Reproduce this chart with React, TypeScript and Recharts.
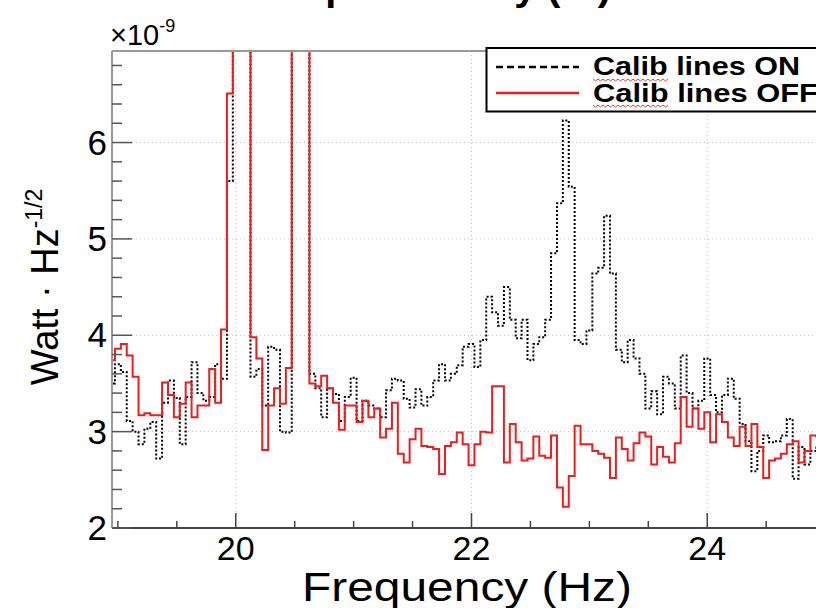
import React from "react";
import { LineChart, Line, XAxis, YAxis, CartesianGrid } from "recharts";

// spectrum bins, 0.05 Hz wide, first bin centred on 18.95 Hz
const BIN_FIRST = 18.95;
const BIN_WIDTH = 0.05;

// "Calib lines OFF" (red), units of 1e-9; 9 = off scale
const offValues = [
  3.74, 3.86, 3.91, 3.79, 3.57, 3.17, 3.19, 3.17, 3.17, 3.51,
  3.38, 3.15, 3.29, 3.51, 3.15, 3.27, 3.27, 3.65, 3.3, 4.06,
  6.51, 9, 9, 9, 3.98, 3.76, 2.81, 3.27, 3.45, 3.29,
  3.66, 9, 9, 9, 3.5, 3.47, 3.58, 3.45, 3.3, 3.02,
  3.27, 3.27, 3.1, 3.32, 3.15, 3.24, 2.94, 3.03, 3.3, 2.77,
  2.68, 2.92, 3.03, 2.85, 2.84, 2.82, 2.56, 2.85, 2.89, 2.99,
  2.87, 2.65, 2.87, 3.0, 2.99, 3.47, 3.47, 2.68, 3.08, 2.89,
  2.7, 2.72, 2.95, 2.75, 2.73, 2.96, 2.42, 2.22, 2.54, 3.06,
  2.87, 2.87, 2.8, 2.77, 2.73, 2.52, 2.94, 2.82, 2.7, 2.88,
  2.99, 2.95, 2.66, 2.84, 2.74, 2.68, 2.88, 3.36, 3.05, 3.24,
  3.03, 3.2, 2.89, 3.18, 3.1, 2.94, 2.85, 3.05, 2.85, 3.08,
  2.84, 2.52, 2.7, 2.72, 2.77, 2.87, 2.9, 2.68, 2.8, 2.96,
  2.95, 2.9, 2.9,
];

// "Calib lines ON" (black dotted)
const onValues = [
  3.5, 3.7, 3.62, 3.11, 3.0, 2.87, 3.03, 3.1, 2.72, 3.3,
  3.53, 3.35, 2.87, 3.36, 3.72, 3.4, 3.32, 3.36, 3.7, 3.55,
  5.6, 9, 9, 9, 3.57, 3.65, 3.27, 3.88, 3.85, 3.0,
  2.99, 9, 9, 9, 3.6, 3.45, 3.15, 3.45, 3.39, 3.11,
  3.36, 3.56, 3.11, 3.32, 3.27, 3.24, 3.15, 3.43, 3.55, 3.53,
  3.34, 3.25, 3.44, 3.27, 3.36, 3.53, 3.7, 3.53, 3.6, 3.69,
  3.88, 3.91, 3.67, 3.95, 4.4, 4.24, 4.1, 4.5, 4.16, 3.97,
  4.16, 3.74, 3.91, 3.98, 4.16, 4.85, 5.37, 6.23, 5.54, 3.95,
  3.91, 4.05, 4.64, 4.7, 5.24, 4.64, 3.85, 3.72, 3.95, 3.76,
  3.6, 3.24, 3.42, 3.18, 3.57, 3.5, 3.24, 3.79, 3.4, 3.24,
  3.32, 3.76, 3.38, 3.2, 3.38, 3.55, 3.34, 3.08, 2.9, 2.59,
  2.8, 2.96, 2.89, 2.9, 2.96, 3.13, 2.51, 2.84, 2.66, 2.8,
  2.85, 2.8, 2.8,
];

const xMajor = [20, 22, 24];
const xMinor = [19, 19.5, 20.5, 21, 21.5, 22.5, 23, 23.5, 24.5, 25];
const yMajor = [2, 3, 4, 5, 6];
const yMinor = [
  2.2, 2.4, 2.6, 2.8, 3.2, 3.4, 3.6, 3.8, 4.2, 4.4, 4.6, 4.8,
  5.2, 5.4, 5.6, 5.8, 6.2, 6.4, 6.6, 6.8,
];

// histogram -> step points at the left edge of each bin
const data = offValues.map((v, i) => ({
  f: +(BIN_FIRST - BIN_WIDTH / 2 + i * BIN_WIDTH).toFixed(3),
  off: v,
  on: onValues[i],
}));
data.push({
  f: +(BIN_FIRST - BIN_WIDTH / 2 + offValues.length * BIN_WIDTH).toFixed(3),
  off: offValues[offValues.length - 1],
  on: onValues[onValues.length - 1],
});

const FONT = "'Liberation Sans', Arial, sans-serif";

const XTick = ({ x, y, payload }: any) => {
  const v = payload.value;
  const major = xMajor.includes(v);
  return (
    <g>
      <line x1={x} x2={x} y1={y} y2={y - (major ? 15 : 7)} stroke="#444" strokeWidth={1.5} />
      {major && (
        <text x={x} y={y + 32} textAnchor="middle" fontSize={34} fontFamily={FONT} fill="#000">
          {v}
        </text>
      )}
    </g>
  );
};

const YTick = ({ x, y, payload }: any) => {
  const v = payload.value;
  const major = yMajor.includes(v);
  return (
    <g>
      <line x1={x} x2={x + (major ? 20 : 10)} y1={y} y2={y} stroke="#555" strokeWidth={1.5} />
      {major && (
        <text x={x - 5} y={y + 12} textAnchor="end" fontSize={35} fontFamily={FONT} fill="#000">
          {v}
        </text>
      )}
    </g>
  );
};

const wave = (x: number, y: number, n: number) => {
  let d = `M${x} ${y}`;
  for (let k = 0; k < n; k++) d += k % 2 === 0 ? " l2.5 2" : " l2.5 -2";
  return d;
};

export default function App() {
  const xTicks = [...xMinor, ...xMajor].sort((a, b) => a - b);
  const yTicks = [...yMinor, ...yMajor].sort((a, b) => a - b);
  return (
    <div
      style={{
        position: "absolute",
        left: 0,
        top: 0,
        width: 816,
        height: 608,
        overflow: "hidden",
        background: "#fff",
      }}
    >
      <LineChart width={850} height={608} data={data} margin={{ top: 50, right: 19, bottom: 79, left: 111 }}>
        <CartesianGrid
          stroke="#bdbdbd"
          strokeDasharray="1 3"
          verticalValues={xMajor}
          horizontalValues={[3, 4, 5, 6]}
        />
        <XAxis
          dataKey="f"
          type="number"
          domain={[18.95, 25.05]}
          allowDataOverflow
          ticks={xTicks}
          interval={0}
          height={1}
          tickSize={0}
          tickMargin={0}
          tick={XTick}
          axisLine={{ stroke: "#444", strokeWidth: 2 }}
        />
        <XAxis
          xAxisId="top"
          orientation="top"
          dataKey="f"
          type="number"
          domain={[18.95, 25.05]}
          height={1}
          tick={false}
          tickLine={false}
          axisLine={{ stroke: "#999", strokeWidth: 2 }}
        />
        <YAxis
          type="number"
          domain={[2, 6.95]}
          allowDataOverflow
          ticks={yTicks}
          interval={0}
          width={1}
          tickSize={0}
          tickMargin={0}
          tick={YTick}
          axisLine={{ stroke: "#999", strokeWidth: 2 }}
        />
        <Line
          type="stepAfter"
          dataKey="on"
          stroke="#000"
          strokeWidth={2}
          strokeDasharray="2 2"
          dot={false}
          isAnimationActive={false}
        />
        <Line
          type="stepAfter"
          dataKey="off"
          stroke="#ee1c1c"
          strokeWidth={2}
          dot={false}
          isAnimationActive={false}
        />
      </LineChart>

      <svg
        width={816}
        height={608}
        style={{ position: "absolute", left: 0, top: 0, pointerEvents: "none" }}
        fontFamily={FONT}
      >
        {/* title, almost entirely above the cropped top edge */}
        <text x={290} y={0} fontSize={36} fontWeight="bold" textLength={321} lengthAdjust="spacingAndGlyphs">
          Input density (W)
        </text>

        {/* exponent */}
        <text x={110} y={45} fontSize={29}>
          ×10
          <tspan dy={-13} fontSize={18}>-9</tspan>
        </text>

        {/* axis titles */}
        <text x={467} y={601} textAnchor="middle" fontSize={40} textLength={330} lengthAdjust="spacingAndGlyphs">
          Frequency (Hz)
        </text>
        <text transform="translate(58,287) rotate(-90)" textAnchor="middle" fontSize={38}>
          Watt · Hz
          <tspan dy={-16} fontSize={23}>-1/2</tspan>
        </text>

        {/* legend */}
        <rect x={486.5} y={48} width={400} height={63.5} fill="#fff" stroke="#000" strokeWidth={2} />
        <line x1={496} x2={579} y1={67} y2={67} stroke="#000" strokeWidth={2.5} strokeDasharray="7 4" />
        <line x1={496} x2={579} y1={93} y2={93} stroke="#ee1c1c" strokeWidth={2.5} />
        <text x={593} y={75} fontSize={25} fontWeight="bold" textLength={207} lengthAdjust="spacingAndGlyphs">
          Calib lines ON
        </text>
        <text x={593} y={102} fontSize={25} fontWeight="bold" textLength={225} lengthAdjust="spacingAndGlyphs">
          Calib lines OFF
        </text>
        <path d={wave(593, 79, 30)} fill="none" stroke="#e04040" strokeWidth={1} />
        <path d={wave(593, 105, 30)} fill="none" stroke="#e04040" strokeWidth={1} />
      </svg>
    </div>
  );
}
